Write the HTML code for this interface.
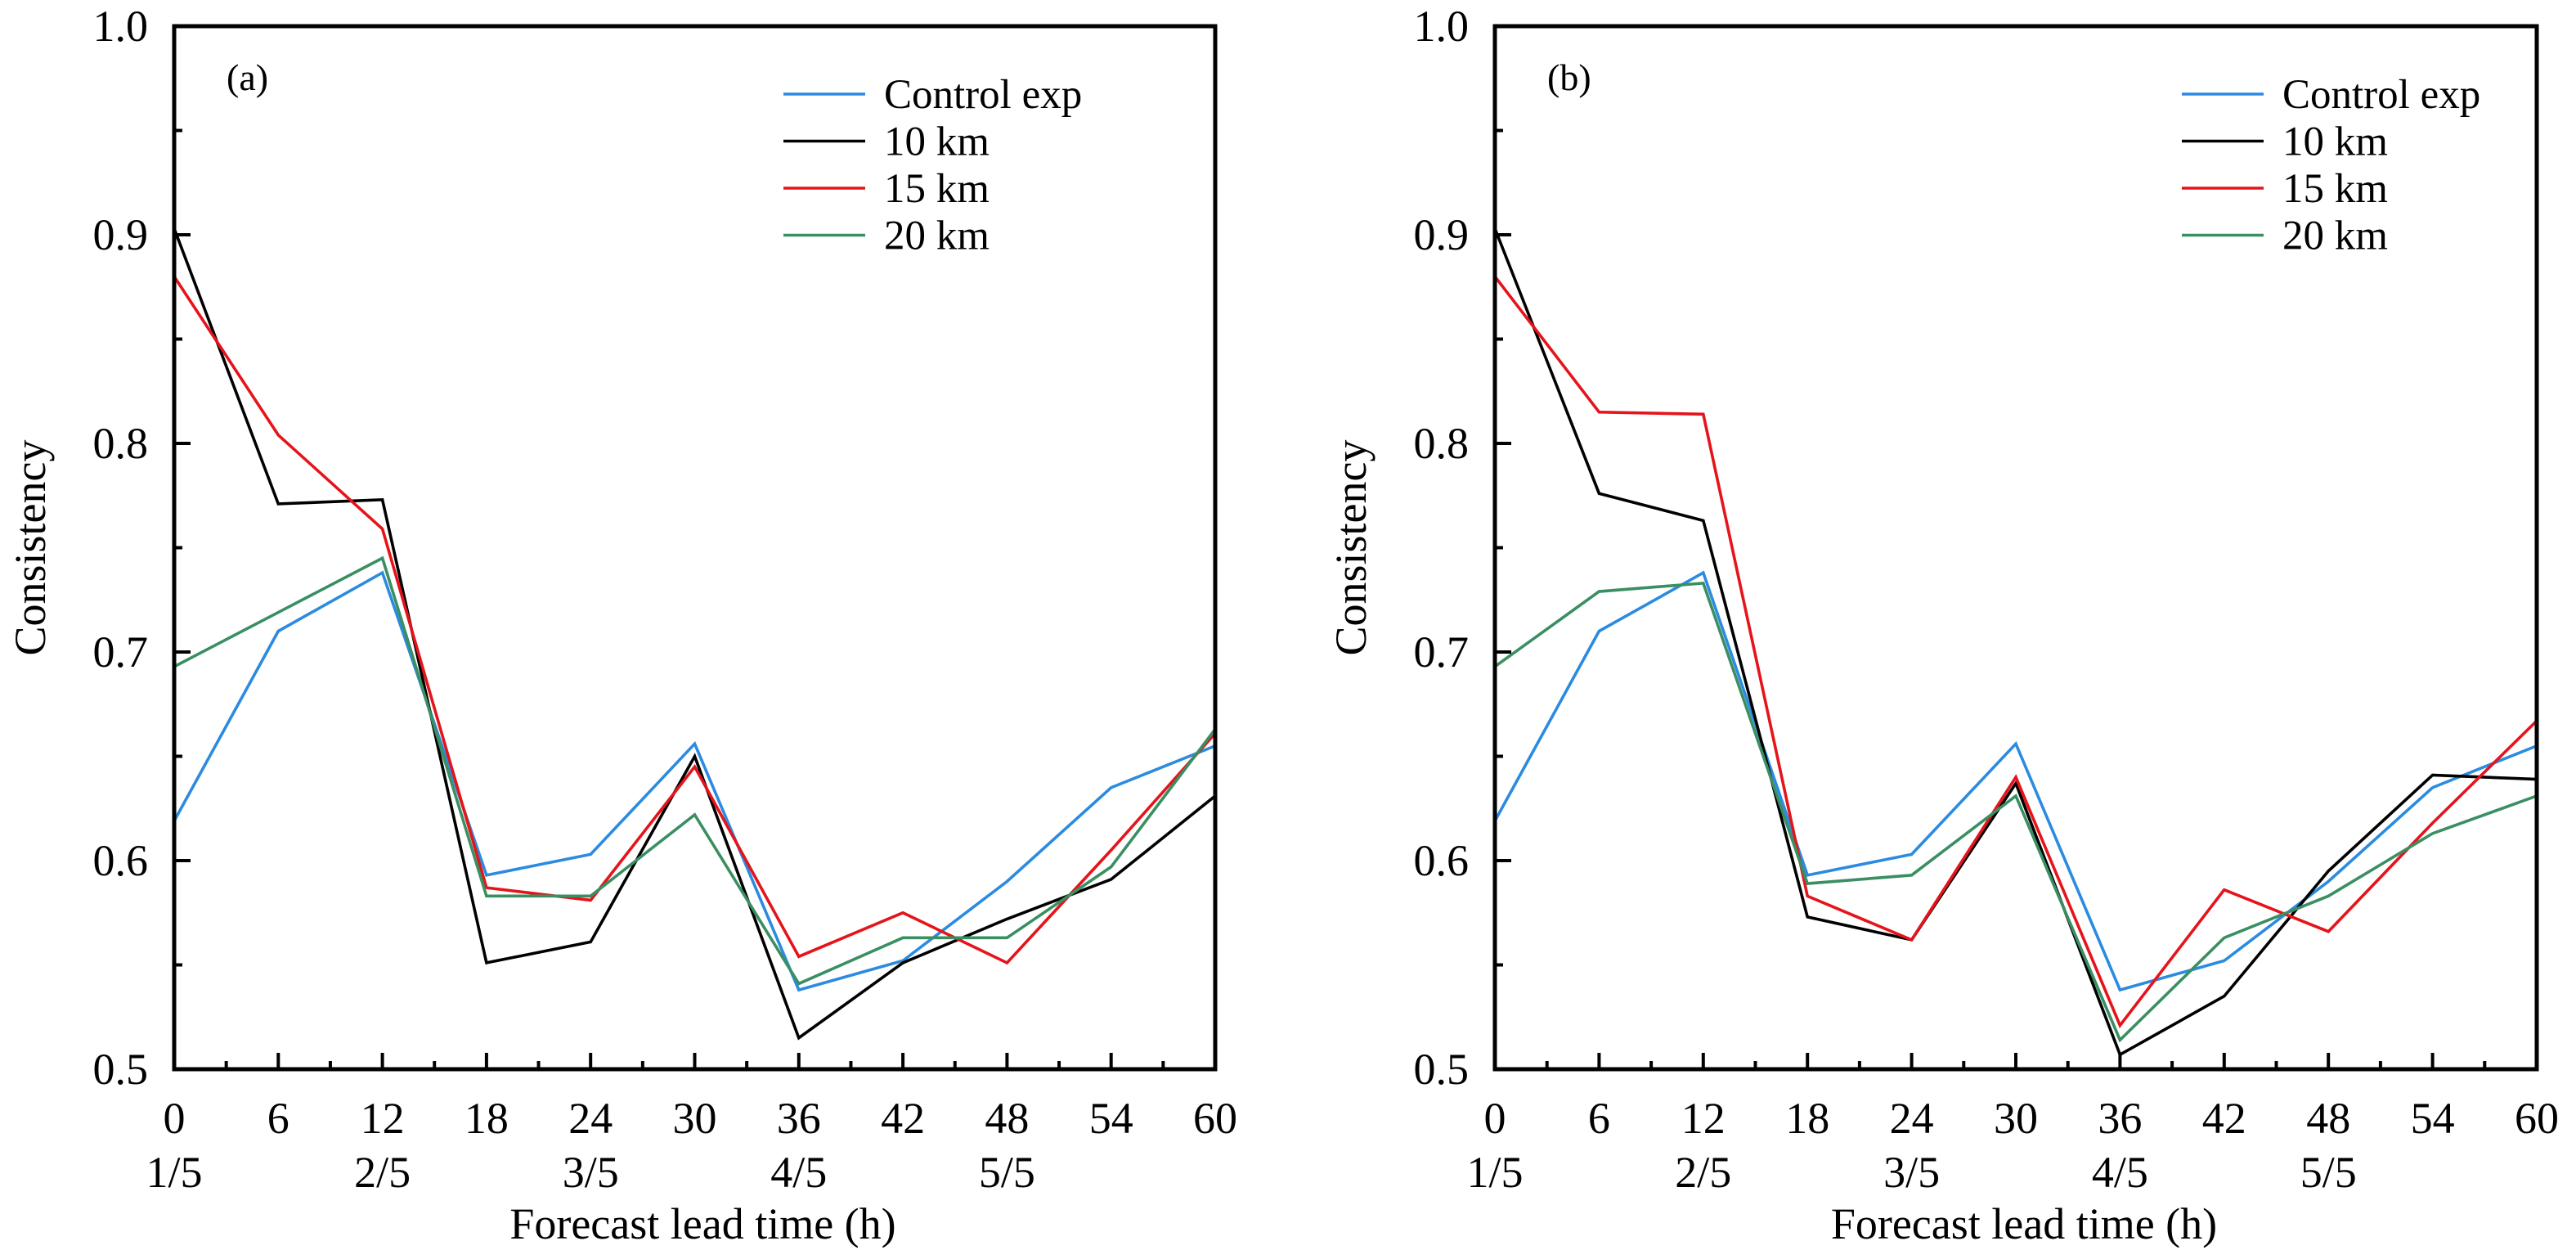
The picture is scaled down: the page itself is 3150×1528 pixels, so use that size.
<!DOCTYPE html>
<html><head><meta charset="utf-8"><style>
html,body{margin:0;padding:0;background:#fff;}
svg{display:block;}
svg text{font-family:"Liberation Serif","Times New Roman",Times,"DejaVu Serif",serif;}
</style></head><body>
<svg id="chart" width="3150" height="1528" viewBox="0 0 3150 1528" xmlns="http://www.w3.org/2000/svg"></svg>
<script>
const hours = [0,6,12,18,24,30,36,42,48,54,60];
const yTicks = [0.5,0.6,0.7,0.8,0.9,1.0];
const yTickLabels = ["0.5","0.6","0.7","0.8","0.9","1.0"];
const dateLabels = ["1/5","2/5","3/5","4/5","5/5"];
const seriesNames = ["Control exp","10 km","15 km","20 km"];
const seriesColors = ["#2b8be0","#000000","#e5141b","#3a8f62"];
const aControl = [0.619,0.710,0.738,0.593,0.603,0.656,0.538,0.552,0.590,0.635,0.655];
const a10 = [0.903,0.771,0.773,0.551,0.561,0.650,0.515,0.551,0.572,0.591,0.631];
const a15 = [0.880,0.804,0.759,0.587,0.581,0.645,0.554,0.575,0.551,0.605,0.661];
const a20 = [0.693,0.719,0.745,0.583,0.583,0.622,0.541,0.563,0.563,0.597,0.663];
const bControl = [0.619,0.710,0.738,0.593,0.603,0.656,0.538,0.552,0.590,0.635,0.655];
const b10 = [0.903,0.776,0.763,0.573,0.562,0.637,0.507,0.535,0.595,0.641,0.639];
const b15 = [0.880,0.815,0.814,0.583,0.562,0.640,0.521,0.586,0.566,0.618,0.667];
const b20 = [0.693,0.729,0.733,0.589,0.593,0.631,0.514,0.563,0.583,0.613,0.631];

const NS="http://www.w3.org/2000/svg";
const svg=document.getElementById('chart');
const FONT="'Liberation Serif', 'Times New Roman', Times, 'DejaVu Serif', serif";
function mk(tag,attrs,parent){const e=document.createElementNS(NS,tag);for(const k in attrs)e.setAttribute(k,attrs[k]);if(tag==='text')e.style.fontFamily=FONT;(parent||svg).appendChild(e);return e;}

function panel(id,x0,x1,label,series,legendX){
  const y0=1307,y1=32;
  const g=mk('g',{});
  
  
  const sx=h=>x0+(h-0)/60*(x1-x0);
  const sy=v=>y0-(v-0.5)/0.5*(y0-y1);
  series.forEach((vals,i)=>{
    const p=mk('polyline',{points:vals.map((v,j)=>sx(hours[j])+','+sy(v)).join(' '),fill:'none',stroke:seriesColors[i],'stroke-width':3.6,'stroke-linejoin':'miter'},g);
    
    
  });
  const fr=mk('rect',{x:x0,y:y1,width:x1-x0,height:y0-y1,fill:'none',stroke:'#000','stroke-width':5},g);
  
  
  for(let h=0;h<=60;h+=3){
    const maj=h%6===0;
    if(h>0&&h<60) mk('line',{x1:sx(h),x2:sx(h),y1:y0,y2:y0-(maj?20:10),stroke:'#000','stroke-width':4},g);
  }
  hours.forEach(h=>{
    const t=mk('text',{x:sx(h),y:1385,'font-size':54,'text-anchor':'middle'},g);
    t.textContent=String(h);
    
    
  });
  dateLabels.forEach((d,i)=>{
    const t=mk('text',{x:sx(i*12),y:1451,'font-size':54,'text-anchor':'middle'},g);
    t.textContent=d;
    
    
  });
  for(let k=1;k<10;k++){
    const v=0.5+k*0.05;
    const maj=k%2===0;
    mk('line',{x1:x0,x2:x0+(maj?20:10),y1:sy(v),y2:sy(v),stroke:'#000','stroke-width':4},g);
  }
  yTicks.forEach((v,i)=>{
    const t=mk('text',{x:x0-32,y:sy(v)+18,'font-size':54,'text-anchor':'end'},g);
    t.textContent=yTickLabels[i];
    
    
  });
  const xt=mk('text',{x:(x0+x1)/2+10,y:1514,'font-size':54,'text-anchor':'middle'},g);
  xt.textContent='Forecast lead time (h)';
  
  
  const yt=mk('text',{x:0,y:0,'font-size':54,'text-anchor':'middle',transform:'translate('+(x0-158)+','+((y0+y1)/2)+') rotate(-90)'},g);
  yt.textContent='Consistency';
  
  
  const pl=mk('text',{x:x0+64,y:110,'font-size':46},g);
  pl.textContent=label;
  
  
  seriesNames.forEach((n,i)=>{
    const ly=115+i*57.5;
    const ln=mk('line',{x1:legendX,x2:legendX+100,y1:ly,y2:ly,stroke:seriesColors[i],'stroke-width':3.6},g);
    
    
    const t=mk('text',{x:legendX+123,y:ly+17,'font-size':51},g);
    t.textContent=n;
    
    
  });
}
panel('a',213,1486,'(a)',[aControl,a10,a15,a20],958);
panel('b',1828,3102,'(b)',[bControl,b10,b15,b20],2668);
</script>
</body></html>
